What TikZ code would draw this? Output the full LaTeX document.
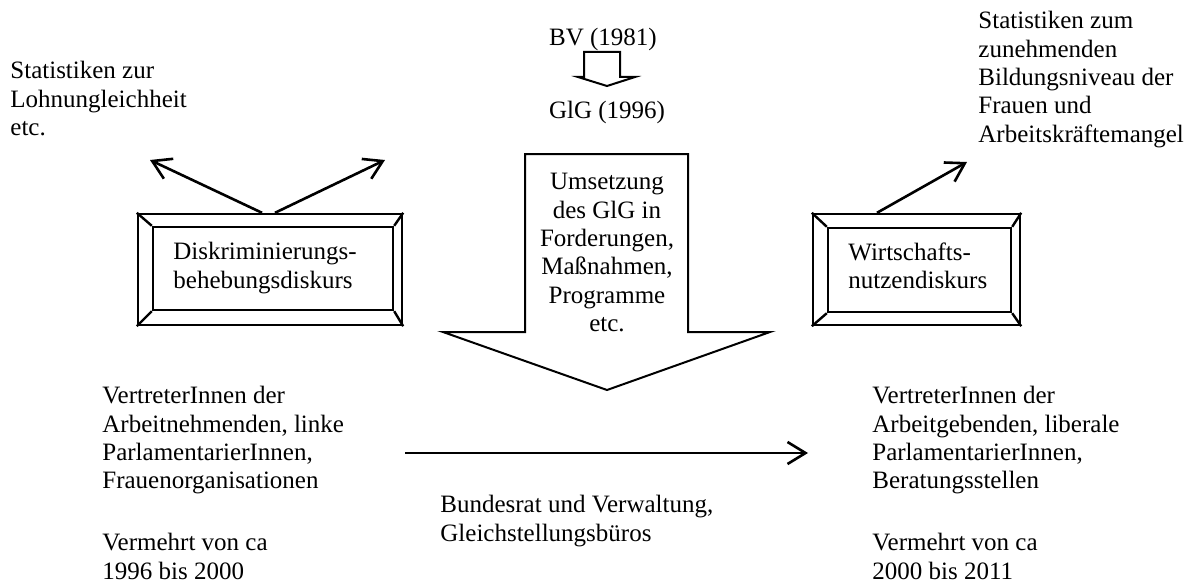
\documentclass[tikz,border=0pt]{standalone}
\usepackage{fontspec}
\setmainfont{Liberation Serif}
\usetikzlibrary{arrows.meta}

\begin{document}
\begin{tikzpicture}[x=0.5pt,y=-0.5pt,
	txt/.style={font=\fontsize{12.5}{14.2}\selectfont,align=left,inner sep=0pt,anchor=north west},
	frame/.style={draw,line width=1.2pt,inner sep=0pt},
	arr/.style={line width=1.3pt,-{Straight Barb[length=9pt,width=11pt,line width=1.3pt]}}]
	\useasboundingbox (0,0) rectangle (1192,583);
	
	\node[txt] (lohn) at (10,61) {Statistiken zur\\Lohnungleichheit\\etc.};
	\node[txt,anchor=north] (bv) at (603,28) {BV (1981)};
	\node[txt,anchor=north] (glg) at (607,101) {GlG (1996)};
	\node[txt] (bildung) at (978,11) {Statistiken zum\\zunehmenden\\Bildungsniveau der\\Frauen und\\Arbeitskräftemangel};
	
	% bevelled frames
	\node[frame,minimum width=132pt,minimum height=55.5pt] (disk) at (270,269.5) {};
	\node[frame,minimum width=120pt,minimum height=41.5pt] (diskin) at (273,268.5) {};
	\node[frame,minimum width=103.5pt,minimum height=55.5pt] (wirt) at (916.5,269.5) {};
	\node[frame,minimum width=91.5pt,minimum height=42pt] (wirtin) at (919.5,270) {};
	\foreach \a in {disk,wirt}
		\draw[line width=1.2pt] (\a.north west) -- (\a in.north west)
		(\a.north east) -- (\a in.north east)
		(\a.south west) -- (\a in.south west)
		(\a.south east) -- (\a in.south east);
	\node[txt] (disktext) at (173,242) {Diskriminierungs-\\behebungsdiskurs};
	\node[txt] (wirttext) at (848,242) {Wirtschafts-\\nutzendiskurs};
	
	% block arrows
	\draw[line width=1pt] (584,52) -- (620,52) -- (620,77) -- (635,77) -- (607,86) -- (578,77) -- (584,77) -- cycle;
	\draw[line width=1pt] (525,154) -- (688,154) -- (688,332) -- (770,332) -- (607,390) -- (443,332) -- (525,332) -- cycle;
	\node[txt,anchor=north,align=center] (umsetzung) at (607,173) {Umsetzung\\des GlG in\\Forderungen,\\Maßnahmen,\\Programme\\etc.};
	
	\node[txt] (nehmer) at (102,386) {VertreterInnen der\\Arbeitnehmenden, linke\\ParlamentarierInnen,\\Frauenorganisationen\\[16.8pt]Vermehrt von ca\\1996 bis 2000};
	\node[txt] (bund) at (440,495) {Bundesrat und Verwaltung,\\Gleichstellungsbüros};
	\node[txt] (geber) at (872,386) {VertreterInnen der\\Arbeitgebenden, liberale\\ParlamentarierInnen,\\Beratungsstellen\\[16.8pt]Vermehrt von ca\\2000 bis 2011};
	
	\coordinate (lohntip) at (150,160);
	\coordinate (etctip) at (385,160);
	\coordinate (bildtip) at (967,162);
	\coordinate (hstart) at (405,453);
	\coordinate (hend) at (808,453);
	\path[arr] ([xshift=-4pt]disk.north) edge (lohntip)
	([xshift=2.5pt]disk.north) edge (etctip)
	([xshift=-19.75pt]wirt.north) edge (bildtip)
	(hstart) edge (hend);
\end{tikzpicture}
\end{document}
